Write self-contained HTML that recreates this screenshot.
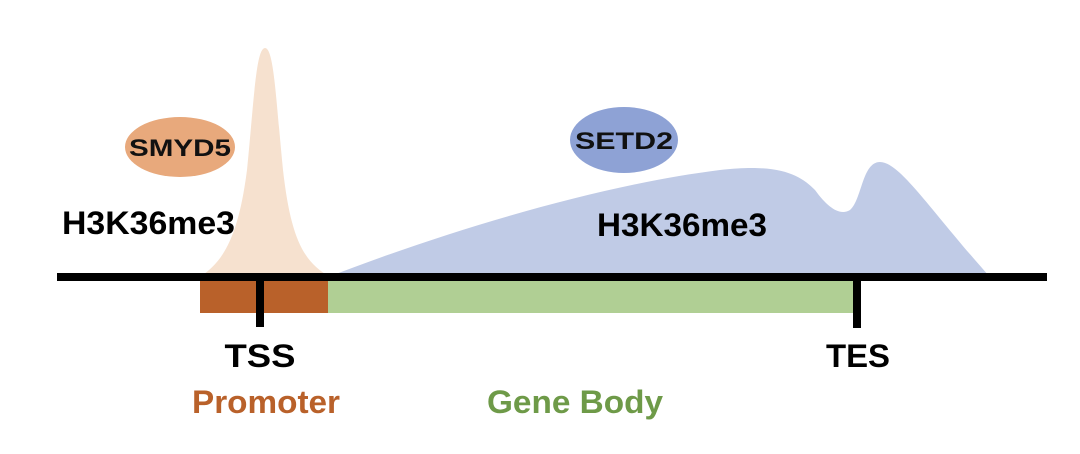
<!DOCTYPE html>
<html><head><meta charset="utf-8"><style>
html,body{margin:0;padding:0;background:#fff;width:1080px;height:454px;overflow:hidden}
svg{display:block}
text{font-family:"Liberation Sans",Arial,sans-serif;font-weight:bold}
</style></head><body>
<svg width="1080" height="454" viewBox="0 0 1080 454">
<path d="M328,277 C450,230 600,185 720,170 C780,163 800,175 815,190 C828,208 840,216 850,210 C862,200 862,162 880,162 C900,162 930,210 990,277 Z" fill="#c0cbe6"/>
<path d="M200,277 C222,262 238,240 247,170 C254,100 256,48 265,48 C274,48 276,100 283,170 C291,240 304,262 330,277 Z" fill="#f6e1cf"/>
<ellipse cx="180" cy="147" rx="55" ry="30" fill="#e8a97c"/>
<ellipse cx="624" cy="140" rx="54" ry="33" fill="#8ea2d5"/>
<text x="180" y="156" font-size="24" text-anchor="middle" textLength="102" lengthAdjust="spacingAndGlyphs" fill="#111">SMYD5</text>
<text x="624" y="149" font-size="24" text-anchor="middle" textLength="98" lengthAdjust="spacingAndGlyphs" fill="#111">SETD2</text>
<text x="62" y="234" font-size="32" textLength="173" lengthAdjust="spacingAndGlyphs" fill="#000">H3K36me3</text>
<text x="597" y="236" font-size="32" textLength="170" lengthAdjust="spacingAndGlyphs" fill="#000">H3K36me3</text>
<rect x="200" y="281" width="128" height="32" fill="#b9612a"/>
<rect x="328" y="281" width="527" height="32" fill="#b0cf94"/>
<rect x="57" y="273" width="990" height="8" fill="#000"/>
<rect x="256" y="277" width="8" height="50" fill="#000"/>
<rect x="853" y="277" width="8" height="51" fill="#000"/>
<text x="260" y="367" font-size="32" text-anchor="middle" textLength="71" lengthAdjust="spacingAndGlyphs" fill="#000">TSS</text>
<text x="858" y="367" font-size="32" text-anchor="middle" textLength="64" lengthAdjust="spacingAndGlyphs" fill="#000">TES</text>
<text x="266" y="413" font-size="32" text-anchor="middle" textLength="148" lengthAdjust="spacingAndGlyphs" fill="#b9612a">Promoter</text>
<text x="575" y="413" font-size="32" text-anchor="middle" textLength="176" lengthAdjust="spacingAndGlyphs" fill="#6e9a48">Gene Body</text>
</svg>
</body></html>
